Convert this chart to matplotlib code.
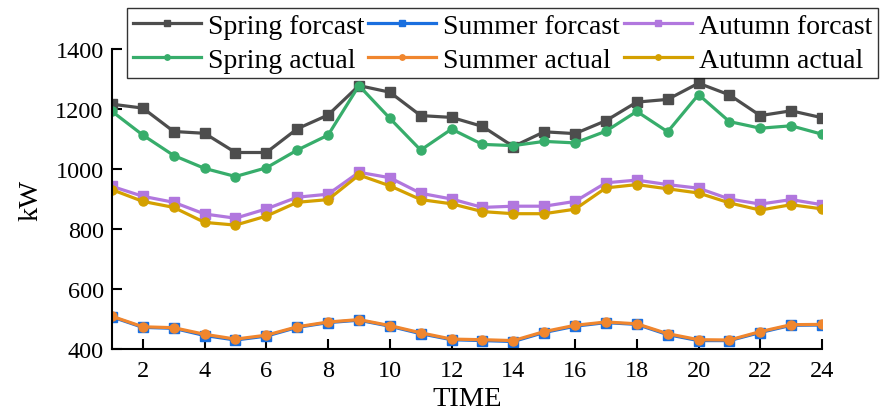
import matplotlib
matplotlib.use("Agg")
import matplotlib.pyplot as plt

# datos (kW por hora)
hours = list(range(1, 25))

spring_forecast = [1216, 1203, 1125, 1119, 1055, 1055, 1134, 1180, 1278, 1256, 1178, 1172,
                   1142, 1075, 1124, 1118, 1161, 1223, 1232, 1286, 1247, 1178, 1194, 1171]
spring_actual = [1192, 1113, 1045, 1002, 975, 1004, 1063, 1113, 1278, 1169, 1063, 1133,
                 1082, 1078, 1092, 1087, 1126, 1192, 1124, 1248, 1158, 1136, 1144, 1116]
summer_forecast = [507, 472, 469, 445, 430, 443, 472, 488, 496, 476, 451, 431,
                   428, 425, 455, 476, 488, 482, 448, 428, 428, 455, 479, 480]
summer_actual = [509, 474, 471, 449, 433, 446, 474, 490, 498, 478, 454, 433,
                 431, 428, 458, 479, 490, 484, 451, 431, 430, 458, 481, 482]
autumn_forecast = [942, 909, 889, 850, 836, 867, 906, 916, 989, 971, 919, 900,
                   872, 876, 876, 892, 954, 963, 948, 936, 900, 883, 898, 881]
autumn_actual = [931, 892, 872, 822, 813, 843, 889, 898, 980, 944, 898, 884,
                 858, 851, 851, 866, 937, 948, 934, 920, 887, 863, 881, 867]

x_ticks = list(range(2, 25, 2))
y_ticks = [400, 600, 800, 1000, 1200, 1400]

plt.rcParams['font.family'] = ['Liberation Serif', 'DejaVu Serif']

fig = plt.figure(figsize=(8.8, 4.14), dpi=100)
ax = fig.add_axes([112 / 880, 64 / 414, 710 / 880, 300 / 414])

lw = 2.3
ms = 6.5
l_sf, = ax.plot(hours, spring_forecast, color='#4d4d4d', marker='s', lw=lw, ms=ms, label='Spring forcast')
l_suf, = ax.plot(hours, summer_forecast, color='#1a6fdf', marker='s', lw=lw, ms=ms, label='Summer forcast')
l_af, = ax.plot(hours, autumn_forecast, color='#b177de', marker='s', lw=lw, ms=ms, label='Autumn forcast')
l_sa, = ax.plot(hours, spring_actual, color='#37ad6b', marker='o', lw=lw, ms=ms, label='Spring actual')
l_sua, = ax.plot(hours, summer_actual, color='#f0862e', marker='o', lw=lw, ms=ms, label='Summer actual')
l_aa, = ax.plot(hours, autumn_actual, color='#d4a000', marker='o', lw=lw, ms=ms, label='Autumn actual')

ax.set_xlim(1, 24)
ax.set_ylim(400, 1400)
ax.set_xticks(x_ticks)
ax.set_yticks(y_ticks)
ax.tick_params(direction='in', length=7, width=1.5, labelsize=17.5, pad=6)
ax.tick_params(axis='x', pad=8)
ax.spines['top'].set_visible(False)
ax.spines['right'].set_visible(False)
ax.spines['left'].set_linewidth(1.5)
ax.spines['bottom'].set_linewidth(1.5)
ax.set_xlabel('TIME', fontsize=20.5)
ax.set_ylabel('kW', fontsize=20.5)
ax.xaxis.set_label_coords(0.5, -0.125)
ax.yaxis.set_label_coords(-0.097, 0.5)

# leyenda por filas: forecast arriba, actual abajo
handles = [l_sf, l_sa, l_suf, l_sua, l_af, l_aa]
leg = fig.legend(handles=handles, loc='upper left', bbox_to_anchor=(127 / 880, 1 - 9 / 414),
                 ncol=3, fontsize=20, frameon=True, fancybox=False, edgecolor='black',
                 borderaxespad=0, borderpad=0.2, handlelength=2.45, handletextpad=0.25,
                 columnspacing=0.15, labelspacing=0.3, markerscale=0.6)
leg.get_frame().set_linewidth(1.0)

fig.savefig('out.png', dpi=100)
